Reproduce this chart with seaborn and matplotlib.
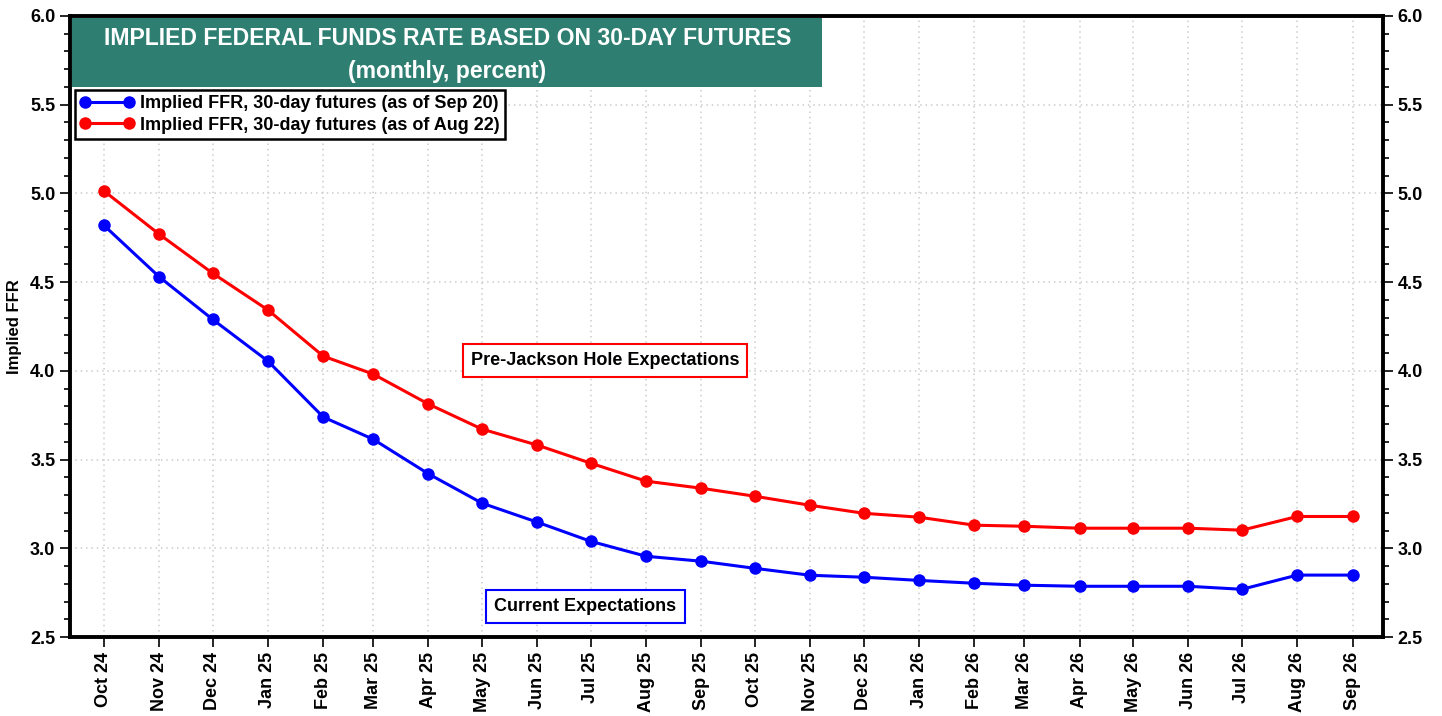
import pandas as pd
import matplotlib
matplotlib.use("Agg")
import matplotlib.pyplot as plt
from matplotlib.patches import Rectangle
from matplotlib.ticker import MultipleLocator, FormatStrFormatter
import seaborn as sns

# Meses dos contratos futuros de 30 dias
meses = ["Oct 24", "Nov 24", "Dec 24", "Jan 25", "Feb 25", "Mar 25", "Apr 25", "May 25",
         "Jun 25", "Jul 25", "Aug 25", "Sep 25", "Oct 25", "Nov 25", "Dec 25", "Jan 26",
         "Feb 26", "Mar 26", "Apr 26", "May 26", "Jun 26", "Jul 26", "Aug 26", "Sep 26"]

ffr_sep20 = [4.82, 4.53, 4.29, 4.055, 3.74, 3.615, 3.42, 3.255, 3.148, 3.04, 2.956, 2.928,
             2.888, 2.849, 2.838, 2.82, 2.804, 2.793, 2.787, 2.787, 2.787, 2.77, 2.85, 2.85]

ffr_aug22 = [5.014, 4.77, 4.55, 4.343, 4.083, 3.982, 3.813, 3.672, 3.582, 3.48, 3.379, 3.339,
             3.294, 3.243, 3.198, 3.176, 3.131, 3.125, 3.114, 3.114, 3.114, 3.103, 3.18, 3.18]

lbl_sep = "Implied FFR, 30-day futures (as of Sep 20)"
lbl_aug = "Implied FFR, 30-day futures (as of Aug 22)"

datas = pd.to_datetime(meses, format="%b %y")
df = pd.concat([
    pd.DataFrame({"data": datas, "ffr": ffr_sep20, "serie": lbl_sep}),
    pd.DataFrame({"data": datas, "ffr": ffr_aug22, "serie": lbl_aug}),
])

sns.set_theme(style="white")
plt.rcParams["font.family"] = ["Liberation Sans", "DejaVu Sans"]
plt.rcParams["font.weight"] = "bold"
for k in ["text.color", "axes.labelcolor", "xtick.color", "ytick.color"]:
    plt.rcParams[k] = "black"

fig = plt.figure(figsize=(14.42, 7.16), dpi=100)
ax = fig.add_axes([0.0485, 0.110, 0.9105, 0.868])

sns.lineplot(data=df, x="data", y="ffr", hue="serie",
             palette={lbl_sep: "#0000FF", lbl_aug: "#FF0000"},
             marker="o", markersize=9, markeredgewidth=0, linewidth=2.2, ax=ax)

ax.set_ylim(2.5, 6.0)
ax.set_xlim(pd.Timestamp("2024-09-12"), pd.Timestamp("2026-09-18"))
ax.yaxis.set_major_locator(MultipleLocator(0.5))
ax.yaxis.set_minor_locator(MultipleLocator(0.1))
ax.yaxis.set_major_formatter(FormatStrFormatter("%.1f"))
ax.set_xticks(datas)
ax.set_xticklabels(meses, rotation=90, fontsize=13, fontweight="bold")
ax.tick_params(axis="y", which="both", left=True, right=True, labelleft=True, labelright=True,
               direction="out", labelsize=13, width=1.2)
ax.tick_params(axis="y", which="major", length=7)
ax.tick_params(axis="y", which="minor", length=4)
ax.tick_params(axis="x", which="major", bottom=True, direction="out", length=7, width=1.2)
for t in ax.get_yticklabels():
    t.set_fontweight("bold")

ax.grid(True, which="major", linestyle=(0, (1, 2.5)), color="#cccccc", linewidth=1.1)
for s in ax.spines.values():
    s.set_color("black")
    s.set_linewidth(2.8)

ax.set_xlabel("")
ax.set_ylabel("Implied FFR", fontsize=12, fontweight="bold", labelpad=6)

# Caixa do titulo
ax.add_patch(Rectangle((0.0015, 0.886), 0.571, 0.111, transform=ax.transAxes,
                       facecolor="#2E7F72", edgecolor="none", zorder=5))
ax.text(0.2875, 0.963, "IMPLIED FEDERAL FUNDS RATE BASED ON 30-DAY FUTURES", transform=ax.transAxes,
        ha="center", va="center", color="white", fontsize=16.6, fontweight="bold", zorder=6)
ax.text(0.2875, 0.911, "(monthly, percent)", transform=ax.transAxes,
        ha="center", va="center", color="white", fontsize=16.6, fontweight="bold", zorder=6)

leg = ax.legend(loc="upper left", bbox_to_anchor=(0.0035, 0.881), fontsize=13, frameon=True,
                fancybox=False, edgecolor="black", framealpha=1, borderpad=0.3,
                handlelength=3.0, handletextpad=0.3, labelspacing=0.25, borderaxespad=0,
                numpoints=2)
leg.get_frame().set_linewidth(1.8)
leg.set_zorder(7)

ax.text(pd.Timestamp("2025-07-09"), 4.06, "Pre-Jackson Hole Expectations", ha="center", va="center",
        fontsize=13, fontweight="bold",
        bbox=dict(boxstyle="square,pad=0.45", facecolor="white", edgecolor="#FF0000", linewidth=1.5))
ax.text(pd.Timestamp("2025-06-28"), 2.675, "Current Expectations", ha="center", va="center",
        fontsize=13, fontweight="bold",
        bbox=dict(boxstyle="square,pad=0.45", facecolor="white", edgecolor="#0000FF", linewidth=1.5))

fig.savefig("out.png", dpi=100)
